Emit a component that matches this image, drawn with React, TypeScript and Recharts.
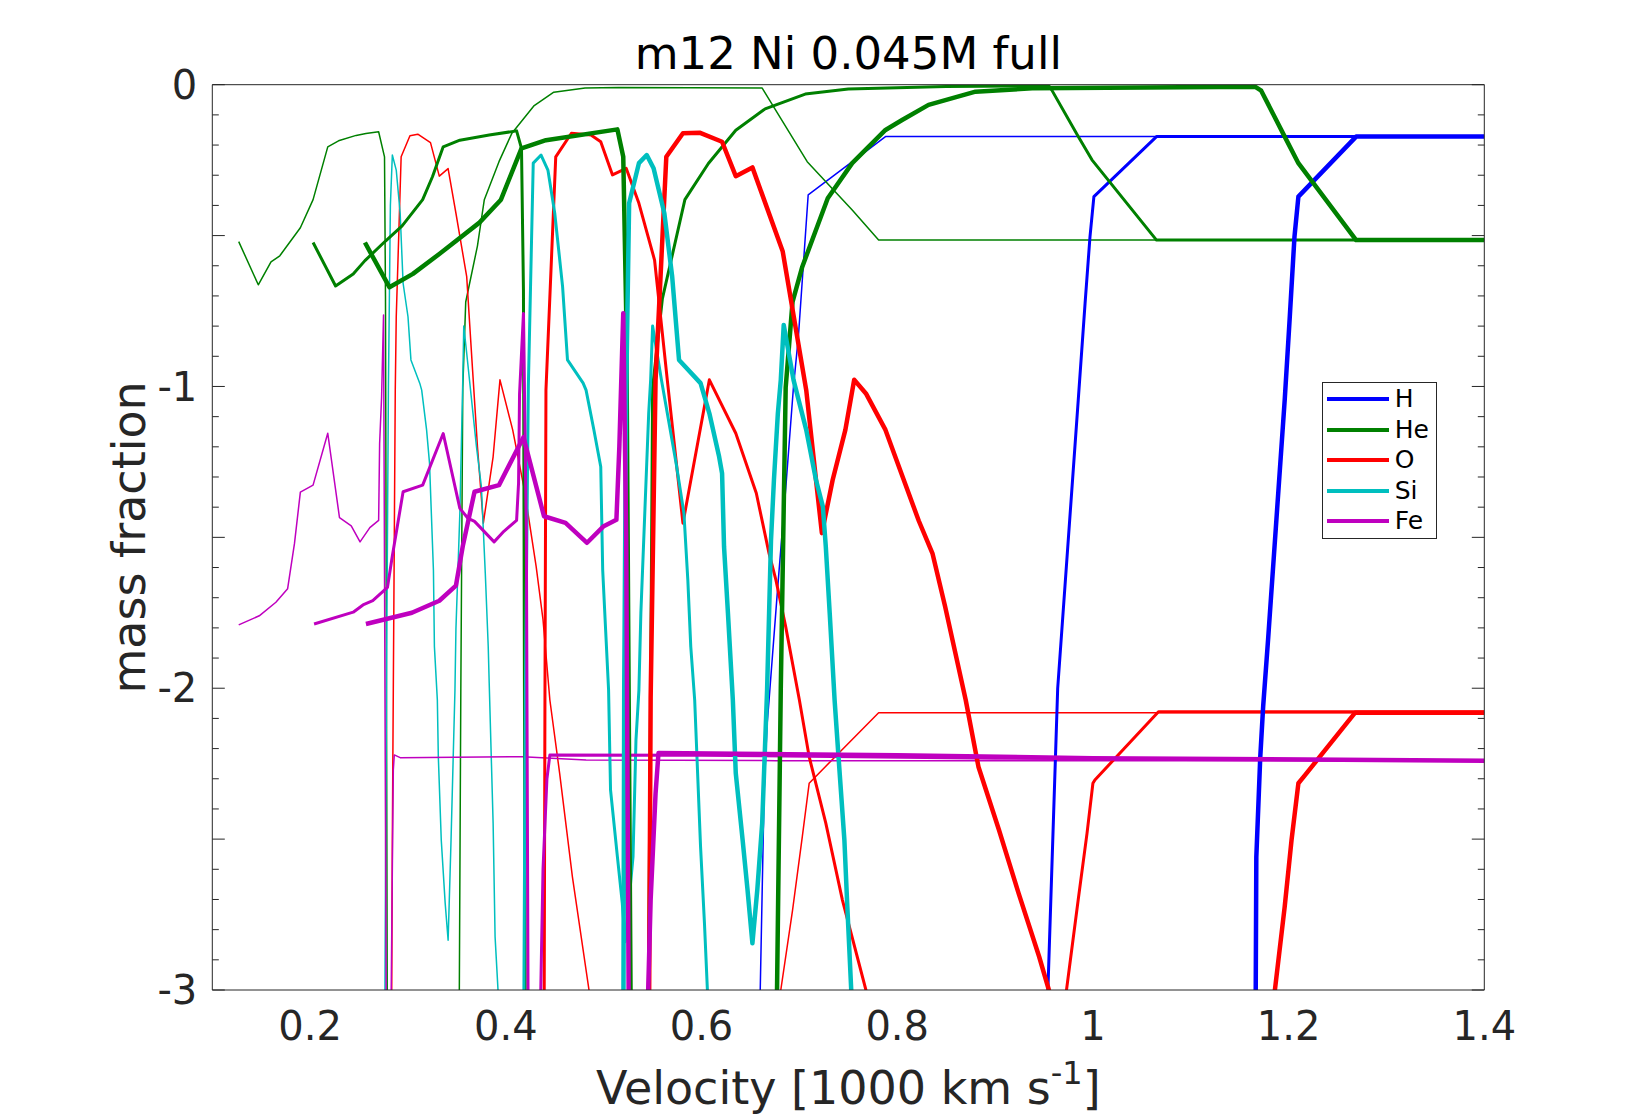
import React from 'react';
import { LineChart, Line, XAxis, YAxis, Legend } from 'recharts';

// axis ticks
const X_TICKS = [0.2, 0.4, 0.6, 0.8, 1, 1.2, 1.4];
const X_MINOR = [0.1, 0.15, 0.2, 0.25, 0.3, 0.35, 0.4, 0.45, 0.5, 0.55, 0.6, 0.65, 0.7, 0.75, 0.8, 0.85, 0.9, 0.95, 1, 1.05, 1.1, 1.15, 1.2, 1.25, 1.3, 1.35, 1.4];
const Y_TICKS = [0, -1, -2, -3];
const Y_HALF = [0, -0.5, -1, -1.5, -2, -2.5, -3];
const Y_MINOR = [0, -0.1, -0.2, -0.3, -0.4, -0.5, -0.6, -0.7, -0.8, -0.9, -1, -1.1, -1.2, -1.3, -1.4, -1.5, -1.6, -1.7, -1.8, -1.9, -2, -2.1, -2.2, -2.3, -2.4, -2.5, -2.6, -2.7, -2.8, -2.9, -3];

const ELEMENTS = ['H', 'He', 'O', 'Si', 'Fe'];

// [velocity (1000 km/s), log10 mass fraction] -- model 1 (thin), 2 (medium), 3 (thick)
const H1 = [[0.659, -3.3], [0.660, -3.0], [0.662, -2.67], [0.664, -2.34], [0.667, -2.12], [0.669, -2.04], [0.678, -1.66], [0.686, -1.34], [0.694, -1.0], [0.699, -0.835], [0.709, -0.365], [0.788, -0.172], [1.4, -0.172]];
const H2 = [[0.953, -3.3], [0.954, -3.0], [0.964, -2.0], [0.985, -1.045], [0.992, -0.724], [0.997, -0.504], [1.001, -0.371], [1.065, -0.172], [1.4, -0.172]];
const H3 = [[1.166, -3.3], [1.167, -2.56], [1.171, -2.23], [1.174, -2.06], [1.179, -1.84], [1.196, -1.045], [1.201, -0.78], [1.206, -0.504], [1.210, -0.371], [1.269, -0.172], [1.4, -0.172]];

const HE1 = [[0.127, -0.52], [0.147, -0.663], [0.160, -0.587], [0.169, -0.567], [0.190, -0.474], [0.203, -0.381], [0.218, -0.206], [0.229, -0.186], [0.247, -0.168], [0.257, -0.162], [0.270, -0.156], [0.276, -0.239], [0.277, -0.70], [0.279, -3.3], [0.352, -3.3], [0.354, -2.0], [0.356, -1.004], [0.359, -0.72], [0.371, -0.534], [0.378, -0.381], [0.393, -0.255], [0.406, -0.162], [0.429, -0.069], [0.449, -0.025], [0.481, -0.011], [0.515, -0.009], [0.662, -0.011], [0.708, -0.255], [0.754, -0.415], [0.781, -0.515], [1.4, -0.515]];
const HE2 = [[0.203, -0.523], [0.226, -0.667], [0.244, -0.627], [0.256, -0.583], [0.277, -0.518], [0.294, -0.468], [0.315, -0.381], [0.325, -0.305], [0.336, -0.206], [0.353, -0.184], [0.383, -0.167], [0.411, -0.153], [0.416, -0.211], [0.418, -0.68], [0.420, -3.3], [0.545, -3.3], [0.548, -2.0], [0.550, -1.004], [0.560, -0.709], [0.583, -0.381], [0.607, -0.261], [0.635, -0.151], [0.665, -0.080], [0.706, -0.031], [0.750, -0.014], [0.85, -0.006], [0.955, -0.004], [0.958, -0.018], [0.985, -0.172], [0.999, -0.249], [1.065, -0.515], [1.4, -0.515]];
const HE3 = [[0.256, -0.523], [0.281, -0.671], [0.305, -0.627], [0.332, -0.561], [0.373, -0.457], [0.395, -0.381], [0.416, -0.211], [0.441, -0.184], [0.514, -0.148], [0.520, -0.239], [0.523, -0.75], [0.528, -3.3], [0.676, -3.3], [0.681, -2.0], [0.686, -1.004], [0.693, -0.72], [0.703, -0.603], [0.729, -0.376], [0.754, -0.260], [0.788, -0.150], [0.805, -0.117], [0.832, -0.067], [0.880, -0.023], [0.938, -0.012], [1.166, -0.007], [1.172, -0.02], [1.196, -0.172], [1.210, -0.260], [1.269, -0.515], [1.4, -0.515]];

const O1 = [[0.283, -3.3], [0.284, -2.5], [0.285, -2.0], [0.287, -1.01], [0.288, -0.769], [0.293, -0.239], [0.302, -0.169], [0.310, -0.164], [0.323, -0.192], [0.332, -0.303], [0.341, -0.278], [0.349, -0.426], [0.360, -0.636], [0.366, -0.945], [0.371, -1.2], [0.377, -1.453], [0.387, -1.233], [0.394, -0.978], [0.407, -1.144], [0.419, -1.343], [0.431, -1.597], [0.438, -1.773], [0.445, -2.039], [0.455, -2.282], [0.468, -2.624], [0.485, -3.0], [0.49, -3.3], [0.678, -3.3], [0.681, -3.0], [0.693, -2.736], [0.703, -2.492], [0.710, -2.315], [0.715, -2.298], [0.781, -2.081], [1.4, -2.081]];
const O2 = [[0.439, -3.3], [0.440, -2.0], [0.441, -1.012], [0.451, -0.239], [0.467, -0.161], [0.487, -0.167], [0.497, -0.189], [0.509, -0.299], [0.523, -0.277], [0.536, -0.393], [0.552, -0.581], [0.565, -0.978], [0.581, -1.453], [0.608, -0.978], [0.635, -1.155], [0.656, -1.354], [0.669, -1.553], [0.676, -1.641], [0.686, -1.796], [0.700, -2.039], [0.710, -2.227], [0.727, -2.447], [0.744, -2.702], [0.768, -3.0], [0.775, -3.3], [0.968, -3.3], [0.973, -3.0], [0.985, -2.70], [0.994, -2.48], [1.000, -2.315], [1.002, -2.304], [1.067, -2.078], [1.4, -2.078]];
const O3 = [[0.546, -3.3], [0.548, -2.03], [0.553, -0.98], [0.564, -0.239], [0.581, -0.161], [0.598, -0.159], [0.621, -0.189], [0.635, -0.303], [0.652, -0.274], [0.683, -0.553], [0.707, -1.012], [0.717, -1.31], [0.723, -1.486], [0.734, -1.31], [0.747, -1.144], [0.756, -0.978], [0.768, -1.023], [0.788, -1.144], [0.798, -1.233], [0.822, -1.445], [0.836, -1.553], [0.849, -1.73], [0.870, -2.039], [0.883, -2.260], [0.904, -2.470], [0.924, -2.679], [0.945, -2.889], [0.955, -3.0], [0.96, -3.3], [1.183, -3.3], [1.186, -3.0], [1.196, -2.724], [1.203, -2.503], [1.210, -2.315], [1.217, -2.287], [1.268, -2.081], [1.4, -2.081]];

const SI1 = [[0.276, -3.3], [0.278, -2.0], [0.280, -1.0], [0.282, -0.4], [0.284, -0.233], [0.288, -0.283], [0.292, -0.426], [0.295, -0.658], [0.300, -0.769], [0.303, -0.912], [0.312, -0.989], [0.314, -1.012], [0.319, -1.144], [0.322, -1.254], [0.326, -1.609], [0.327, -1.862], [0.330, -2.039], [0.331, -2.227], [0.334, -2.503], [0.338, -2.712], [0.341, -2.835], [0.344, -2.503], [0.348, -2.006], [0.349, -1.804], [0.353, -1.42], [0.356, -0.978], [0.357, -0.80], [0.360, -0.89], [0.370, -1.2], [0.375, -1.332], [0.379, -1.619], [0.382, -1.862], [0.383, -1.983], [0.387, -2.447], [0.389, -2.823], [0.392, -3.0], [0.393, -3.3]];
const SI2 = [[0.418, -3.3], [0.420, -2.0], [0.423, -1.0], [0.428, -0.26], [0.436, -0.233], [0.443, -0.283], [0.450, -0.426], [0.458, -0.669], [0.463, -0.912], [0.479, -0.989], [0.482, -1.012], [0.490, -1.144], [0.497, -1.266], [0.499, -1.609], [0.502, -1.808], [0.505, -2.006], [0.507, -2.337], [0.514, -2.558], [0.519, -2.712], [0.522, -2.84], [0.530, -2.558], [0.533, -2.171], [0.536, -2.006], [0.538, -1.751], [0.542, -1.42], [0.546, -1.089], [0.548, -0.978], [0.550, -0.80], [0.559, -0.978], [0.574, -1.254], [0.582, -1.42], [0.586, -1.642], [0.589, -1.862], [0.593, -2.039], [0.596, -2.282], [0.599, -2.525], [0.603, -2.779], [0.606, -3.0], [0.607, -3.3]];
const SI3 = [[0.520, -3.3], [0.521, -2.0], [0.523, -1.012], [0.526, -0.393], [0.536, -0.260], [0.544, -0.233], [0.551, -0.277], [0.562, -0.426], [0.570, -0.636], [0.577, -0.912], [0.599, -0.989], [0.608, -1.089], [0.618, -1.233], [0.621, -1.288], [0.623, -1.531], [0.627, -1.751], [0.632, -2.039], [0.635, -2.282], [0.642, -2.503], [0.647, -2.668], [0.652, -2.845], [0.657, -2.668], [0.662, -2.447], [0.667, -2.006], [0.671, -1.509], [0.674, -1.31], [0.678, -1.089], [0.681, -0.978], [0.684, -0.796], [0.694, -0.978], [0.707, -1.144], [0.717, -1.31], [0.724, -1.398], [0.727, -1.531], [0.731, -1.751], [0.736, -2.039], [0.740, -2.227], [0.746, -2.503], [0.749, -2.724], [0.753, -3.0], [0.754, -3.3]];

const FE1 = [[0.127, -1.79], [0.148, -1.76], [0.165, -1.715], [0.177, -1.67], [0.184, -1.52], [0.190, -1.35], [0.203, -1.327], [0.218, -1.155], [0.230, -1.435], [0.242, -1.462], [0.251, -1.515], [0.261, -1.468], [0.270, -1.444], [0.271, -1.19], [0.273, -1.037], [0.275, -0.763], [0.278, -3.3], [0.282, -3.3], [0.284, -2.6], [0.285, -2.271], [0.286, -2.221], [0.292, -2.23], [0.417, -2.227], [0.482, -2.238], [0.676, -2.240], [1.4, -2.24]];
const FE2 = [[0.204, -1.787], [0.244, -1.748], [0.254, -1.724], [0.264, -1.71], [0.279, -1.666], [0.284, -1.562], [0.295, -1.349], [0.315, -1.327], [0.336, -1.156], [0.353, -1.404], [0.361, -1.436], [0.368, -1.447], [0.388, -1.515], [0.398, -1.48], [0.411, -1.444], [0.413, -1.32], [0.414, -1.026], [0.418, -0.758], [0.421, -1.5], [0.423, -3.3], [0.434, -3.3], [0.438, -2.6], [0.442, -2.3], [0.445, -2.221], [0.60, -2.222], [0.90, -2.232], [1.4, -2.24]];
const FE3 = [[0.257, -1.787], [0.304, -1.75], [0.332, -1.71], [0.349, -1.66], [0.356, -1.529], [0.368, -1.349], [0.393, -1.327], [0.418, -1.168], [0.439, -1.43], [0.461, -1.452], [0.483, -1.518], [0.500, -1.463], [0.513, -1.442], [0.516, -1.2], [0.520, -0.757], [0.523, -1.5], [0.526, -3.3], [0.543, -3.3], [0.548, -2.7], [0.553, -2.35], [0.556, -2.215], [0.80, -2.222], [1.0, -2.232], [1.4, -2.24]];

const COLORS: Record<string, string> = { H: '#0000ff', He: '#008000', O: '#ff0000', Si: '#00bfbf', Fe: '#bf00bf' };
const WIDTHS = [1.5, 3, 4.5];
const AXIS = '#262626';
const FONT = 'DejaVu Sans';

// drawn model by model, thin first
const SERIES = [
  { el: 'H', m: 0, pts: H1 }, { el: 'He', m: 0, pts: HE1 }, { el: 'O', m: 0, pts: O1 }, { el: 'Si', m: 0, pts: SI1 }, { el: 'Fe', m: 0, pts: FE1 },
  { el: 'H', m: 1, pts: H2 }, { el: 'He', m: 1, pts: HE2 }, { el: 'O', m: 1, pts: O2 }, { el: 'Si', m: 1, pts: SI2 }, { el: 'Fe', m: 1, pts: FE2 },
  { el: 'H', m: 2, pts: H3 }, { el: 'He', m: 2, pts: HE3 }, { el: 'O', m: 2, pts: O3 }, { el: 'Si', m: 2, pts: SI3 }, { el: 'Fe', m: 2, pts: FE3 },
].map(s => ({ ...s, data: s.pts.map(([x, y]) => ({ x, y })) }));

// plot box in page pixels
const W = 1641, H = 1114;
const LEFT = 212.3, TOP = 84.7, RIGHT = 1484.3, BOTTOM = 990;
const CX = (LEFT + RIGHT) / 2;

const xLen = (v: number) => (X_TICKS.includes(v) ? 12.5 : 6.5);
const yLen = (v: number) => (Y_HALF.includes(v) ? 12.5 : 6.5);

const TopTick = ({ x, y, payload }: any) => <line x1={x} x2={x} y1={y} y2={y + xLen(payload.value)} stroke={AXIS} strokeWidth={1} />;
const BottomTick = ({ x, y, payload }: any) => <line x1={x} x2={x} y1={y} y2={y - xLen(payload.value)} stroke={AXIS} strokeWidth={1} />;
const LeftTick = ({ x, y, payload }: any) => <line x1={x} x2={x + yLen(payload.value)} y1={y} y2={y} stroke={AXIS} strokeWidth={1} />;
const RightTick = ({ x, y, payload }: any) => <line x1={x} x2={x - yLen(payload.value)} y1={y} y2={y} stroke={AXIS} strokeWidth={1} />;

const TitleLabel = () => (
  <text x={CX} y={69} textAnchor="middle" fontSize={45} fontFamily={FONT} fill="#000">m12 Ni 0.045M full</text>
);

const XLabel = () => (
  <text x={CX} y={1104} textAnchor="middle" fontSize={46} fontFamily={FONT} fill={AXIS}>
    Velocity [1000 km s<tspan dy={-20} fontSize={32}>-1</tspan><tspan dy={20}>]</tspan>
  </text>
);

const YLabel = () => (
  <text x={145} y={(TOP + BOTTOM) / 2} transform={`rotate(-90 145 ${(TOP + BOTTOM) / 2})`} textAnchor="middle" fontSize={46} fontFamily={FONT} fill={AXIS}>
    mass fraction
  </text>
);

function MatlabLegend() {
  return (
    <div style={{ width: 115, height: 157, border: `1px solid ${AXIS}`, background: '#fff', boxSizing: 'border-box', position: 'relative', fontFamily: FONT }}>
      {ELEMENTS.map((el, i) => (
        <div key={el} style={{ position: 'absolute', left: 4, top: 4.3 + i * 30.6, height: 24, display: 'flex', alignItems: 'center' }}>
          <div style={{ width: 62, height: 4, background: COLORS[el] }} />
          <span style={{ marginLeft: 6, fontSize: 25, lineHeight: '24px', color: '#000' }}>{el}</span>
        </div>
      ))}
    </div>
  );
}

export default function App() {
  return (
    <div style={{ position: 'absolute', left: 0, top: 0, width: W, height: H, background: '#fff' }}>
      <LineChart width={W} height={H} margin={{ top: TOP, right: W - RIGHT, bottom: H - BOTTOM - 60, left: LEFT - 80 }}>
        <XAxis xAxisId="x" dataKey="x" type="number" domain={[0.1, 1.4]} allowDataOverflow ticks={X_TICKS} interval={0}
          height={60} tickLine={false} tickSize={6} tickMargin={16} axisLine={{ stroke: AXIS }}
          tick={{ fontSize: 40, fill: AXIS, fontFamily: FONT }} label={XLabel} />
        <XAxis xAxisId="xb" type="number" domain={[0.1, 1.4]} allowDataOverflow ticks={X_MINOR} interval={0}
          mirror tickLine={false} tickSize={0} tickMargin={0} axisLine={false} tick={BottomTick} />
        <XAxis xAxisId="xt" orientation="top" type="number" domain={[0.1, 1.4]} allowDataOverflow ticks={X_MINOR} interval={0}
          mirror tickLine={false} tickSize={0} tickMargin={0} axisLine={{ stroke: AXIS }} tick={TopTick} label={TitleLabel} />
        <YAxis yAxisId="y" type="number" domain={[-3, 0]} allowDataOverflow ticks={Y_TICKS} interval={0}
          width={80} tickLine={false} tickSize={6} tickMargin={9} axisLine={{ stroke: AXIS }}
          tick={{ fontSize: 40, fill: AXIS, fontFamily: FONT }} label={YLabel} />
        <YAxis yAxisId="yl" type="number" domain={[-3, 0]} allowDataOverflow ticks={Y_MINOR} interval={0}
          mirror tickLine={false} tickSize={0} tickMargin={0} axisLine={false} tick={LeftTick} />
        <YAxis yAxisId="yr" orientation="right" type="number" domain={[-3, 0]} allowDataOverflow ticks={Y_MINOR} interval={0}
          mirror tickLine={false} tickSize={0} tickMargin={0} axisLine={{ stroke: AXIS }} tick={RightTick} />
        {SERIES.map((s, i) => (
          <Line key={i} xAxisId="x" yAxisId="y" data={s.data} dataKey="y" name={s.el} type="linear"
            stroke={COLORS[s.el]} strokeWidth={WIDTHS[s.m]} strokeLinejoin="round"
            dot={false} activeDot={false} isAnimationActive={false} legendType="none" />
        ))}
        <Legend verticalAlign="middle" align="center" content={MatlabLegend}
          wrapperStyle={{ left: 1321.7, top: 381.7, width: 115, height: 157 }} />
      </LineChart>
    </div>
  );
}
